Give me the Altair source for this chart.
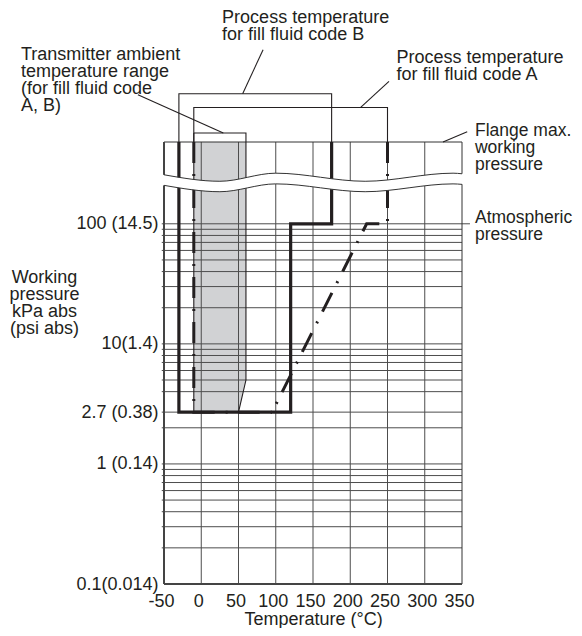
import altair as alt
import pandas as pd

# ---------------- values ----------------
T_MIN, T_MAX = -50, 350          # temperature axis (°C)
P_MIN, P_TOP = 0.1, 480          # pressure axis (kPa abs); top = flange max. working pressure

X_TICKS = [-50, 0, 50, 100, 150, 200, 250, 300, 350]
Y_TICK_VALUES = [0.1, 1, 2.7, 10, 100]
Y_TICK_LABELS = ["0.1(0.014)", "1 (0.14)", "2.7 (0.38)", "10(1.4)", "100 (14.5)"]

X_GRID = [0, 50, 100, 150, 200, 250, 300]
Y_GRID = [0.2, 0.3, 0.4, 0.5, 0.6, 0.7, 0.8, 0.9, 1,
          2, 2.7, 4, 5, 6, 7, 8, 9, 10,
          20, 30, 40, 50, 60, 70, 80, 90, 100]
ATM_P = 100                       # atmospheric pressure line

# Fill fluid code B (thick solid)
B_T = [-30, -30, 120, 120, 175, 175]
B_P = [P_TOP, 2.7, 2.7, 100, 100, P_TOP]
# Fill fluid code A (dash-dot), left and right parts
A_L_T = [-10, -10, 95]
A_L_P = [P_TOP, 2.7, 2.7]
A_R_T = [250, 250, 222, 95]
A_R_P = [P_TOP, 100, 100, 2.7]
# Transmitter ambient temperature range (shaded)
AMB_T = [-10, 50, 60]
AMB_P_LOW = [2.7, 2.7, 5]

# bracket / leader lines above the diagram (°C, kPa)
AMB_BOX_T = [-10, -10, 50, 60, 60, -10]
AMB_BOX_P = [570, 2.7, 2.7, 5, 570, 570]
B_BR_T = [-30, -30, 175, 175]
B_BR_P = [P_TOP, 1211, 1211, P_TOP]
A_BR_T = [-10, -10, 250, 250]
A_BR_P = [P_TOP, 931, 931, P_TOP]
B_LEAD_T, B_LEAD_P = [55.6, 83], [1211, 2818]
A_LEAD_T, A_LEAD_P = [214, 252], [931, 1534]
AMB_LEAD_T, AMB_LEAD_P = [29.6, -85], [570, 1190]
FL_LEAD_T, FL_LEAD_P = [324.5, 357], [P_TOP, 584]
ATM_LEAD_T = 360.7

# axis break (wavy band)
WAVE_T = [-50, 25, 100, 220, 338, 350]
WAVE_UP = [256, 226, 264, 226, 264, 261]
WAVE_LO = [209, 185, 215, 185, 215, 213]

LEFT_TEXT = ["Process temperature\nfor fill fluid code B",
             "Transmitter ambient\ntemperature range\n(for fill fluid code\nA, B)",
             "Process temperature\nfor fill fluid code A"]
LEFT_T = [28, -242, 262]
LEFT_P = [4720, 2300, 2180]
RIGHT_TEXT = ["Flange max.\nworking\npressure", "Atmospheric\npressure"]
RIGHT_T = [367.4, 367.4]
RIGHT_P = [536, 101]

# ---------------- styles ----------------
FONT = "Liberation Sans"
INK = "#231f20"
GRID = "#4d4d4d"
GRAY_FILL = "#d1d2d4"
FS = 18

xs = alt.Scale(domain=[T_MIN, T_MAX], nice=False, zero=False)
ys = alt.Scale(type="log", domain=[P_MIN, P_TOP], nice=False)

label_expr = " : ".join(f"datum.value == {v} ? '{l}'" for v, l in zip(Y_TICK_VALUES, Y_TICK_LABELS)) + " : ''"

x_axis = alt.Axis(values=X_TICKS, labelExpr="'' + datum.value", grid=False, ticks=False, domain=False,
                  labelFontSize=FS, labelFont=FONT, labelColor=INK, labelPadding=8, labelFlush=False,
                  labelOffset=-3, labelOverlap=False, title="Temperature (°C)", titleFont=FONT,
                  titleFontSize=FS, titleFontWeight="normal", titleColor=INK, titleX=149, titleY=40,
                  titleBaseline="alphabetic")
y_axis = alt.Axis(values=Y_TICK_VALUES, labelExpr=label_expr, grid=False, ticks=False, domain=False,
                  labelFontSize=FS, labelFont=FONT, labelColor=INK, labelPadding=6, labelOverlap=False,
                  title=["Working", "pressure", "kPa abs", "(psi abs)"], titleAngle=0, titleAlign="center",
                  titleX=-120, titleY=140.5, titleBaseline="alphabetic", titleLineHeight=17,
                  titleFont=FONT, titleFontSize=FS, titleFontWeight="normal", titleColor=INK)


def X(f="T"):
    return alt.X(f"{f}:Q", scale=xs, axis=x_axis)


def Y(f="P"):
    return alt.Y(f"{f}:Q", scale=ys, axis=y_axis)


def path_df(parts):
    rows = []
    for name, ts, ps in parts:
        for i, (t, p) in enumerate(zip(ts, ps)):
            rows.append({"path": name, "i": i, "T": t, "P": p})
    return pd.DataFrame(rows)


# ---------------- layers ----------------
amb_df = pd.DataFrame({"T": AMB_T, "P": AMB_P_LOW, "P2": [P_TOP] * len(AMB_T)})
amb = alt.Chart(amb_df).mark_area(color=GRAY_FILL, orient="vertical").encode(
    x=X(), y=Y("P"), y2=alt.Y2("P2"))

vgrid_df = pd.DataFrame({"T": X_GRID, "P": [P_MIN] * len(X_GRID), "P2": [P_TOP] * len(X_GRID)})
vgrid = alt.Chart(vgrid_df).mark_rule(color=GRID, strokeWidth=1).encode(
    x=X(), y=Y("P"), y2=alt.Y2("P2"))

hgrid_df = pd.DataFrame({"P": Y_GRID, "T": [T_MIN - 3] * len(Y_GRID),
                         "T2": [ATM_LEAD_T if v == ATM_P else T_MAX for v in Y_GRID]})
hgrid = alt.Chart(hgrid_df).mark_rule(color=GRID, strokeWidth=1).encode(
    y=Y(), x=X("T"), x2=alt.X2("T2"))

thin_border_df = pd.DataFrame({"T": [T_MIN, T_MAX], "T2": [T_MAX, T_MAX],
                               "P": [P_TOP, P_MIN], "P2": [P_TOP, P_TOP]})
thin_border = alt.Chart(thin_border_df).mark_rule(color="#333333", strokeWidth=1).encode(
    x=X("T"), x2=alt.X2("T2"), y=Y("P"), y2=alt.Y2("P2"))

thick_border_df = pd.DataFrame({"T": [T_MIN, T_MIN], "T2": [T_MIN, T_MAX],
                                "P": [P_MIN, P_MIN], "P2": [P_TOP, P_MIN]})
thick_border = alt.Chart(thick_border_df).mark_rule(color="#444444", strokeWidth=2).encode(
    x=X("T"), x2=alt.X2("T2"), y=Y("P"), y2=alt.Y2("P2"))

thin_df = path_df([("amb_box", AMB_BOX_T, AMB_BOX_P), ("b_br", B_BR_T, B_BR_P),
                   ("a_br", A_BR_T, A_BR_P), ("b_lead", B_LEAD_T, B_LEAD_P),
                   ("a_lead", A_LEAD_T, A_LEAD_P), ("amb_lead", AMB_LEAD_T, AMB_LEAD_P),
                   ("fl_lead", FL_LEAD_T, FL_LEAD_P)])
thin = alt.Chart(thin_df).mark_line(color=INK, strokeWidth=1.1).encode(
    x=X(), y=Y(), detail="path:N", order="i:Q")

b_df = path_df([("B", B_T, B_P)])
curve_b = alt.Chart(b_df).mark_line(color=INK, strokeWidth=3.2, strokeJoin="miter").encode(
    x=X(), y=Y(), detail="path:N", order="i:Q")

a_df = path_df([("A_L", A_L_T, A_L_P), ("A_R", A_R_T, A_R_P)])
curve_a = alt.Chart(a_df).mark_line(color=INK, strokeWidth=3, strokeDash=[21, 11, 2, 11]).encode(
    x=X(), y=Y(), detail="path:N", order="i:Q")

band_T = [WAVE_T[0] - 1.5] + WAVE_T[1:-1] + [WAVE_T[-1] + 1.5]
band_df = pd.DataFrame({"T": band_T, "P": WAVE_LO, "P2": WAVE_UP})
band = alt.Chart(band_df).mark_area(color="white", interpolate="monotone", orient="vertical").encode(
    x=X(), y=Y("P"), y2=alt.Y2("P2"))

wave_df = path_df([("up", WAVE_T, WAVE_UP), ("lo", WAVE_T, WAVE_LO)])
waves = alt.Chart(wave_df).mark_line(color="#333333", strokeWidth=1, interpolate="monotone").encode(
    x=X(), y=Y(), detail="path:N", order="i:Q")

left_df = pd.DataFrame({"label": LEFT_TEXT, "T": LEFT_T, "P": LEFT_P})
texts_left = alt.Chart(left_df).mark_text(align="left", baseline="alphabetic", lineBreak="\n",
                                          fontSize=FS, lineHeight=17, font=FONT, color=INK).encode(
    x=X(), y=Y(), text="label:N")

right_df = pd.DataFrame({"label": RIGHT_TEXT, "T": RIGHT_T, "P": RIGHT_P})
texts_right = alt.Chart(right_df).mark_text(align="left", baseline="alphabetic", lineBreak="\n",
                                            fontSize=17.5, lineHeight=17, font=FONT, color=INK).encode(
    x=X(), y=Y(), text="label:N")

chart = alt.layer(amb, vgrid, hgrid, thin_border, thick_border, thin, curve_b, curve_a,
                  band, waves, texts_left, texts_right).properties(
    width=298, height=442,
    padding={"left": 156, "top": 134, "right": 112, "bottom": 44},
    autosize=alt.AutoSizeParams(type="none"),
    background="white",
).configure_view(stroke=None)

chart.save("out.html", embed_options={"renderer": "svg", "actions": False})
